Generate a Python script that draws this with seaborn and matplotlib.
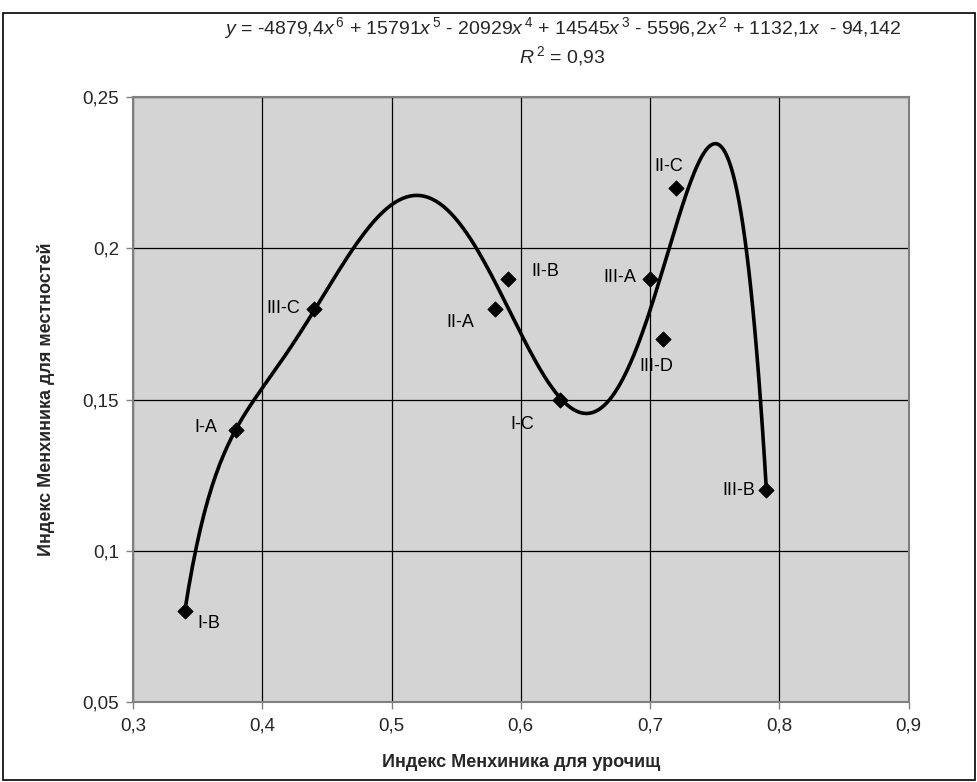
import numpy as np
import pandas as pd
import matplotlib
matplotlib.use('Agg')
import matplotlib.pyplot as plt
import seaborn as sns
from matplotlib.ticker import FuncFormatter, MultipleLocator
from matplotlib.patches import Rectangle

# data
names = ['I-B', 'I-A', 'III-C', 'II-A', 'II-B', 'I-C', 'III-A', 'III-D', 'II-C', 'III-B']
x_vals = [0.34, 0.38, 0.44, 0.58, 0.59, 0.63, 0.70, 0.71, 0.72, 0.79]
y_vals = [0.08, 0.14, 0.18, 0.18, 0.19, 0.15, 0.19, 0.17, 0.22, 0.12]
# label offsets (points) for each point label
label_dx = [17, -22, -22, -25, 27, -27, -22, -5, -5, -20]
label_dy = [-9, 2, 0, -10, 5, -18, 1, -20, 15, 0]

equation = (r"$y$ = -4879,4$x^{\,6}$ + 15791$x^{\,5}$ - 20929$x^{\,4}$ + 14545$x^{\,3}$"
            r" - 5596,2$x^{\,2}$ + 1132,1$x$  - 94,142")
r2_text = r"$R^{\,2}$ = 0,93"

df = pd.DataFrame({'name': names, 'x': x_vals, 'y': y_vals})

sns.set_theme(style='white')
plt.rcParams['font.family'] = ['Liberation Sans', 'DejaVu Sans']
plt.rcParams['mathtext.fontset'] = 'custom'
plt.rcParams['mathtext.rm'] = 'Liberation Sans'
plt.rcParams['mathtext.it'] = 'Liberation Sans:italic'

fig = plt.figure(figsize=(9.78, 7.82), dpi=100)
ax = fig.add_axes([0.136, 0.102, 0.793, 0.774])
ax.set_facecolor('#d4d4d4')

# polynomial trendline (degree 6) fitted to the points
coef = np.polyfit(df['x'], df['y'], 6)
xs = np.linspace(df['x'].min(), df['x'].max(), 300)
trend = pd.DataFrame({'x': xs, 'y': np.polyval(coef, xs)})
sns.lineplot(data=trend, x='x', y='y', ax=ax, color='black', linewidth=2.6, zorder=3)

sns.scatterplot(data=df, x='x', y='y', ax=ax, marker='D', s=60, color='black',
                edgecolor='black', zorder=4)

for n, px, py, dx, dy in zip(names, x_vals, y_vals, label_dx, label_dy):
    ax.annotate(n, (px, py), xytext=(dx, dy), textcoords='offset points',
                ha='center', va='center', fontsize=13, color='black')

ax.set_xlim(0.3, 0.9)
ax.set_ylim(0.05, 0.25)
ax.xaxis.set_major_locator(MultipleLocator(0.1))
ax.yaxis.set_major_locator(MultipleLocator(0.05))
fmt = FuncFormatter(lambda v, p: ('%g' % round(v, 3)).replace('.', ','))
ax.xaxis.set_major_formatter(fmt)
ax.yaxis.set_major_formatter(fmt)
ax.grid(True, color='black', linewidth=0.9)
ax.set_axisbelow(True)
for s in ax.spines.values():
    s.set_color('#808080')
    s.set_linewidth(1.5)
ax.tick_params(axis='both', which='major', length=5, width=1, color='#808080',
               labelsize=13.5, bottom=True, left=True, pad=5)
ax.tick_params(axis='x', pad=6)

ax.set_xlabel('Индекс Менхиника для урочищ', fontsize=13, fontweight='bold', labelpad=14)
ax.set_ylabel('Индекс Менхиника для местностей', fontsize=13, fontweight='bold', labelpad=20)

fig.text(0.575, 0.964, equation, ha='center', va='center', fontsize=14)
fig.text(0.575, 0.928, r2_text, ha='center', va='center', fontsize=14)

fig.patches.append(Rectangle((0.003, 0.003), 0.994, 0.98, transform=fig.transFigure,
                             fill=False, edgecolor='black', linewidth=1.2))

fig.savefig('out.png', dpi=100)
